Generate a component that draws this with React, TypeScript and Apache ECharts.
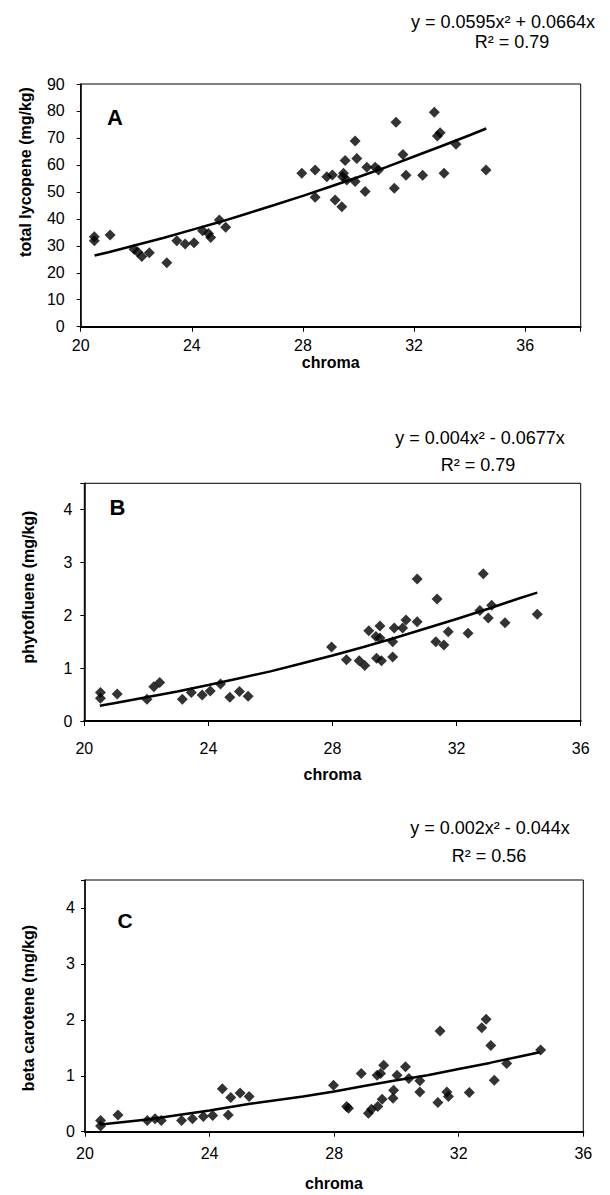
import React, { useEffect, useRef } from "react";
import * as echarts from "echarts";

const FONT = '"Liberation Sans", Arial, sans-serif';

// Panel A: total lycopene vs chroma
const aX = [20.49, 20.49, 21.06, 21.92, 22.05, 22.2, 22.47, 23.1, 23.46, 23.76, 24.08, 24.39, 24.6, 24.68, 24.99, 25.22, 27.96, 28.44, 28.44, 28.86, 29.06, 29.16, 29.4, 29.43, 29.46, 29.52, 29.58, 29.88, 29.94, 29.88, 30.24, 30.3, 30.6, 30.72, 31.29, 31.35, 31.6, 31.71, 32.31, 32.73, 32.84, 32.94, 33.08, 33.51, 34.59];
const aY = [33.4, 31.9, 34.0, 28.7, 27.7, 26.0, 27.4, 23.7, 31.9, 30.7, 31.1, 35.6, 34.6, 33.1, 39.6, 36.9, 56.9, 58.1, 48.0, 55.6, 56.3, 47.0, 44.5, 55.6, 56.9, 61.6, 54.4, 68.9, 62.4, 53.8, 50.1, 59.1, 59.1, 58.1, 51.3, 75.8, 63.9, 56.2, 56.2, 79.5, 70.7, 71.9, 56.9, 67.7, 58.1];
const aTrendX = [20.5, 21, 22, 23, 24, 25, 26, 27, 28, 29, 30, 31, 32, 33, 34, 34.6];
const aTrendY = [26.4, 27.6, 30.3, 33.0, 35.9, 38.8, 42.0, 45.2, 48.5, 52.0, 55.5, 59.2, 63.1, 67.0, 71.0, 73.5];

// Panel B: phytofluene vs chroma
const bX = [20.52, 20.52, 21.06, 22.02, 22.24, 22.43, 23.16, 23.45, 23.8, 24.06, 24.39, 24.69, 25.0, 25.28, 27.97, 28.45, 28.86, 29.04, 29.17, 29.4, 29.42, 29.53, 29.53, 29.58, 29.94, 29.94, 29.99, 30.26, 30.37, 30.73, 30.73, 31.33, 31.37, 31.59, 31.73, 32.37, 32.75, 32.86, 33.02, 33.13, 33.56, 34.6];
const bY = [0.54, 0.43, 0.51, 0.41, 0.65, 0.73, 0.41, 0.54, 0.49, 0.57, 0.7, 0.45, 0.56, 0.47, 1.4, 1.16, 1.14, 1.05, 1.71, 1.6, 1.19, 1.8, 1.57, 1.14, 1.5, 1.21, 1.76, 1.76, 1.91, 1.88, 2.69, 1.5, 2.31, 1.44, 1.69, 1.66, 2.09, 2.79, 1.95, 2.19, 1.86, 2.02];
const bTrendX = [20.5, 21, 22, 23, 24, 25, 26, 27, 28, 29, 30, 31, 32, 33, 34, 34.6];
const bTrendY = [0.29, 0.34, 0.45, 0.56, 0.68, 0.81, 0.94, 1.09, 1.24, 1.4, 1.57, 1.75, 1.93, 2.12, 2.32, 2.43];

// Panel C: beta carotene vs chroma
const cX = [20.5, 20.5, 21.06, 22.0, 22.25, 22.45, 23.1, 23.45, 23.8, 24.1, 24.41, 24.6, 24.68, 24.98, 25.27, 27.98, 28.4, 28.46, 28.87, 29.1, 29.2, 29.38, 29.49, 29.59, 29.4, 29.54, 29.89, 29.91, 30.02, 30.29, 30.4, 30.75, 30.75, 31.33, 31.4, 31.62, 31.67, 32.34, 32.74, 32.88, 33.03, 33.14, 33.54, 34.63];
const cY = [0.2, 0.1, 0.3, 0.2, 0.23, 0.2, 0.2, 0.23, 0.27, 0.29, 0.77, 0.3, 0.61, 0.69, 0.63, 0.83, 0.45, 0.42, 1.04, 0.33, 0.4, 1.01, 1.04, 1.19, 0.45, 0.58, 0.6, 0.74, 1.01, 1.16, 0.95, 0.91, 0.71, 0.52, 1.8, 0.71, 0.63, 0.7, 1.86, 2.01, 1.54, 0.92, 1.22, 1.46];
const cTrendX = [20.5, 22, 24, 25.3, 27, 28, 29, 30, 31, 32, 33, 34, 34.6];
const cTrendY = [0.13, 0.22, 0.38, 0.5, 0.63, 0.72, 0.82, 0.92, 1.01, 1.12, 1.23, 1.35, 1.42];

const panelLetters = ["A", "B", "C"];
const yNames = ["total lycopene (mg/kg)", "phytofluene (mg/kg)", "beta carotene (mg/kg)"];
const xName = "chroma";
const equations = ["y = 0.0595x² + 0.0664x", "y = 0.004x² - 0.0677x", "y = 0.002x² - 0.044x"];
const r2s = ["R² = 0.79", "R² = 0.79", "R² = 0.56"];

const pairs = (xs: number[], ys: number[]) => xs.map((x, i) => [x, ys[i]]);

export default function App() {
  const ref = useRef<HTMLDivElement>(null);
  useEffect(() => {
    document.body.style.margin = "0";
    const chart = echarts.init(ref.current!, null, { renderer: "svg" });

    const grids = [
      { left: 80.7, top: 84, width: 500, height: 242.7 },
      { left: 84.3, top: 483.3, width: 496.4, height: 237.7 },
      { left: 85, top: 880, width: 498.3, height: 251.7 },
    ];
    const xMax = [38, 36, 36];
    const xLabelMargin = [11, 19, 14];
    const yLabelMargin = [16, 12, 10];
    const tickFont = [16, 16, 16];

    const xAxes = grids.map((_, i) => ({
      type: "value",
      gridIndex: i,
      min: 20,
      max: xMax[i],
      interval: 4,
      axisLine: { show: true, onZero: false, lineStyle: { color: "#000", width: 2 } },
      axisTick: { show: true, inside: false, length: 5, lineStyle: { color: "#000", width: 1 } },
      axisLabel: {
        color: "#000",
        fontSize: tickFont[i],
        fontFamily: FONT,
        margin: xLabelMargin[i],
        formatter: (v: number) => (v % 4 === 0 ? String(v) : ""),
      },
      splitLine: { show: false },
    }));

    const yAxes = grids.map((_, i) => ({
      type: "value",
      gridIndex: i,
      min: 0,
      max: i === 0 ? 90 : 4.5,
      interval: i === 0 ? 10 : 1,
      axisLine: { show: true, onZero: false, lineStyle: { color: "#000", width: 1.5 } },
      axisTick: { show: true, inside: false, length: 4, lineStyle: { color: "#000", width: 1 } },
      axisLabel: {
        color: "#000",
        fontSize: tickFont[i],
        fontFamily: FONT,
        margin: yLabelMargin[i],
        formatter: (v: number) => (Number.isInteger(v) ? String(v) : ""),
      },
      splitLine: { show: false },
    }));

    const scatterData = [pairs(aX, aY), pairs(bX, bY), pairs(cX, cY)];
    const trendData = [pairs(aTrendX, aTrendY), pairs(bTrendX, bTrendY), pairs(cTrendX, cTrendY)];

    const series: any[] = [];
    for (let i = 0; i < 3; i++) {
      series.push({
        type: "line",
        xAxisIndex: i,
        yAxisIndex: i,
        data: trendData[i],
        showSymbol: false,
        symbol: "none",
        smooth: false,
        lineStyle: { color: "#000", width: 2.5 },
        z: 2,
      });
      series.push({
        type: "scatter",
        xAxisIndex: i,
        yAxisIndex: i,
        data: scatterData[i],
        symbol: "diamond",
        symbolSize: 11,
        itemStyle: { color: "#000" },
        z: 3,
      });
    }

    const eqPos = [
      { x: 503, y: 22, rx: 512, ry: 42 },
      { x: 480, y: 438, rx: 478, ry: 465 },
      { x: 490, y: 828, rx: 489, ry: 856 },
    ];
    const letterPos = [
      { x: 115, y: 117, s: 22 },
      { x: 117.5, y: 507, s: 22 },
      { x: 125, y: 920, s: 21 },
    ];
    const yNamePos = [
      { x: 25, y: 172 },
      { x: 28, y: 587 },
      { x: 28, y: 1008 },
    ];
    const xNamePos = [
      { x: 330.7, y: 362 },
      { x: 332.5, y: 774 },
      { x: 334, y: 1183 },
    ];

    const graphic: any[] = [];
    for (let i = 0; i < 3; i++) {
      graphic.push({
        type: "text",
        x: eqPos[i].x,
        y: eqPos[i].y,
        style: { text: equations[i], fill: "#000", font: `18px ${FONT}`, textAlign: "center", textVerticalAlign: "middle" },
      });
      graphic.push({
        type: "text",
        x: eqPos[i].rx,
        y: eqPos[i].ry,
        style: { text: r2s[i], fill: "#000", font: `18px ${FONT}`, textAlign: "center", textVerticalAlign: "middle" },
      });
      graphic.push({
        type: "text",
        x: letterPos[i].x,
        y: letterPos[i].y,
        style: { text: panelLetters[i], fill: "#000", font: `bold ${letterPos[i].s}px ${FONT}`, textAlign: "center", textVerticalAlign: "middle" },
      });
      graphic.push({
        type: "text",
        x: yNamePos[i].x,
        y: yNamePos[i].y,
        rotation: Math.PI / 2,
        style: { text: yNames[i], fill: "#000", font: `bold 16px ${FONT}`, textAlign: "center", textVerticalAlign: "middle" },
      });
      graphic.push({
        type: "text",
        x: xNamePos[i].x,
        y: xNamePos[i].y,
        style: { text: xName, fill: "#000", font: `bold 16px ${FONT}`, textAlign: "center", textVerticalAlign: "middle" },
      });
    }

    chart.setOption({
      animation: false,
      backgroundColor: "#fff",
      grid: grids.map((g) => ({ ...g, show: true, borderColor: "#000", borderWidth: 1, backgroundColor: "transparent" })),
      xAxis: xAxes,
      yAxis: yAxes,
      series,
      graphic,
    });

    return () => chart.dispose();
  }, []);

  return <div ref={ref} style={{ width: 610, height: 1195 }} />;
}
